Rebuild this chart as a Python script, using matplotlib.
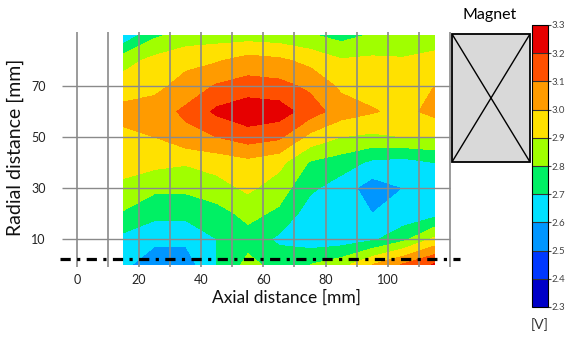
import numpy as np
import matplotlib
matplotlib.use("Agg")
import matplotlib.pyplot as plt
from matplotlib.colors import ListedColormap, BoundaryNorm
from matplotlib.patches import Rectangle

plt.rcParams['font.family'] = ['Lato', 'DejaVu Sans']

# measurement grid [mm]
axial = [15, 25, 35, 45, 55, 65, 75, 85, 95, 105, 115]
radial = [0, 10, 20, 30, 40, 50, 60, 70, 80, 90]

# sensor voltage [V], one row per radial position
volt = [
    [2.62, 2.55, 2.55, 2.70, 2.83, 2.76, 2.80, 2.86, 3.00, 3.11, 3.21],
    [2.67, 2.62, 2.62, 2.70, 2.76, 2.68, 2.64, 2.64, 2.68, 2.77, 2.92],
    [2.79, 2.73, 2.73, 2.76, 2.83, 2.78, 2.65, 2.63, 2.60, 2.63, 2.66],
    [2.87, 2.82, 2.82, 2.86, 2.92, 2.85, 2.72, 2.65, 2.55, 2.60, 2.65],
    [2.95, 2.93, 2.91, 2.94, 2.97, 2.93, 2.79, 2.75, 2.68, 2.66, 2.70],
    [2.98, 3.00, 3.07, 3.10, 3.15, 3.12, 2.97, 2.90, 2.88, 2.90, 2.90],
    [3.03, 3.05, 3.12, 3.22, 3.27, 3.25, 3.15, 3.05, 3.01, 2.97, 3.03],
    [2.95, 2.97, 3.04, 3.11, 3.14, 3.13, 3.08, 2.98, 2.95, 2.95, 3.00],
    [2.86, 2.93, 2.97, 2.99, 3.04, 3.02, 2.97, 2.91, 2.92, 2.91, 2.93],
    [2.62, 2.78, 2.84, 2.85, 2.85, 2.84, 2.81, 2.76, 2.81, 2.83, 2.85],
]

levels = [2.3, 2.4, 2.5, 2.6, 2.7, 2.8, 2.9, 3.0, 3.1, 3.2, 3.3]
band_colors = ['#0000c8', '#0038ff', '#0096ff', '#00e1ff', '#00f064',
               '#a0ff00', '#ffe100', '#ff9b00', '#ff5000', '#e60000']

xticks = [0, 20, 40, 60, 80, 100]
yticks = [10, 30, 50, 70]
xgrid = list(range(0, 130, 10))

W, H = 566, 338


def box(x0, y0, x1, y1):
    # pixel box (top-left origin) -> figure fraction rect
    return [x0 / W, 1 - y1 / H, (x1 - x0) / W, (y1 - y0) / H]


fig = plt.figure(figsize=(W / 100, H / 100), dpi=100)

# main map
ax = fig.add_axes(box(58, 30, 462, 268))
cmap = ListedColormap(band_colors)
norm = BoundaryNorm(levels, cmap.N)
X, Y = np.meshgrid(axial, radial)
cs = ax.contourf(X, Y, np.array(volt), levels=levels, cmap=cmap, norm=norm)

ax.set_xlim(-6.1, 123.9)
ax.set_ylim(-1.37, 91.96)
for s in ax.spines.values():
    s.set_visible(False)

ax.vlines(xgrid, -1.0, 91.0, color='#8a8a8a', lw=1.2, zorder=3)
ax.hlines(yticks, -4.8, 120, color='#8a8a8a', lw=1.0, zorder=3)
ax.plot([-5.5, 123.2], [2, 2], color='black', lw=2.3,
        linestyle=(0, (3.2, 2.0, 1.0, 2.0)), zorder=4)

ax.set_xticks(xticks)
ax.set_yticks(yticks)
ax.tick_params(length=0, labelsize=9, colors='#222222')
ax.tick_params(axis='x', pad=4)
ax.tick_params(axis='y', pad=9)

fig.text(287 / W, 1 - 298 / H, 'Axial distance [mm]', ha='center', va='center',
         fontsize=12.5, color='#111111')
fig.text(15 / W, 1 - 147 / H, 'Radial distance [mm]', ha='center', va='center',
         rotation=90, fontsize=14, color='#111111')

# magnet sketch
mag = fig.add_axes(box(452, 34, 530, 162))
mag.set_xlim(0, 1)
mag.set_ylim(0, 1)
mag.axis('off')
mag.add_patch(Rectangle((0, 0), 1, 1, facecolor='#d9d9d9', edgecolor='black',
                        lw=1.3, clip_on=False))
mag.plot([0, 1], [0, 1], color='black', lw=1.0)
mag.plot([0, 1], [1, 0], color='black', lw=1.0)
fig.text(490 / W, 1 - 15 / H, 'Magnet', ha='center', va='center', fontsize=11.5)

# colour scale
cax = fig.add_axes(box(532, 25, 548, 307))
cb = fig.colorbar(cs, cax=cax, ticks=levels, drawedges=True)
cb.outline.set_edgecolor('black')
cb.outline.set_linewidth(0.8)
cb.dividers.set_color('#333333')
cb.dividers.set_linewidth(0.8)
cb.ax.set_yticklabels(['%.1f' % v for v in levels])
cb.ax.tick_params(length=2, width=0.8, labelsize=7, colors='#444444', pad=0.5)
fig.text(540 / W, 1 - 325 / H, '[V]', ha='center', va='center', fontsize=10,
         color='#333333')

fig.savefig('out.png', dpi=100)
